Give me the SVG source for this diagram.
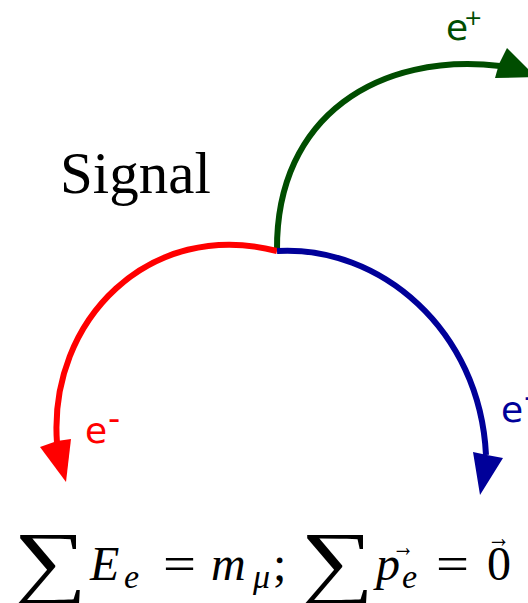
<svg xmlns="http://www.w3.org/2000/svg" width="528" height="603" viewBox="0 0 528 603">
<style>
.arc{fill:none;stroke-width:6;stroke-linecap:butt}
.lbl{font-family:"DejaVu Sans",sans-serif}
.m{font-family:"Liberation Serif",serif;font-size:48px;fill:#000}
.i{font-style:italic}
.s{font-size:34px}
.sum{font-size:75px}
</style>
<rect width="528" height="603" fill="#fff"/>
<g id="connectors">
<path class="arc" stroke="#004d00" d="M277 250 C276 115 380 52 500 66"/>
<polygon fill="#004d00" points="507,48 536,77 495,78 499,64"/>
<path class="arc" stroke="#ff0000" d="M277 251 C150 218 48 320 57 443"/>
<polygon fill="#ff0000" points="71,439 66,482 40,447 57,441"/>
<path class="arc" stroke="#000099" d="M277 251 C380 245 480 330 486 455"/>
<polygon fill="#000099" points="503,458 480,495 473,452 487,455"/>
</g>
<g id="signal"><text x="60" y="193" font-family="Liberation Serif,serif" font-size="59">Signal</text></g>
<g id="eplus" class="lbl" fill="#004d00"><text x="446" y="40" font-size="36">e</text><text x="464" y="25" font-size="22">+</text></g>
<g id="eminus-red" class="lbl" fill="#ff0000"><text x="85" y="443" font-size="36">e</text><text x="108" y="430" font-size="34">-</text></g>
<g id="eminus-blue" class="lbl" fill="#000099"><text x="501" y="422" font-size="36">e</text><text x="524" y="408" font-size="34">-</text></g>
<g id="formula" class="m">
<text class="sum" transform="translate(13,589) scale(1.38,1.1)">∑</text>
<text class="i" x="90" y="580">E</text>
<text class="i s" x="124" y="588">e</text>
<text x="163" y="580" textLength="33" lengthAdjust="spacingAndGlyphs">=</text>
<text class="i" x="211" y="580">m</text>
<text class="i s" x="253" y="588">μ</text>
<text x="273" y="580">;</text>
<text class="sum" transform="translate(300,589) scale(1.38,1.1)">∑</text>
<text class="i" x="376" y="580">p</text>
<text class="i s" x="402" y="588">e</text>
<text x="392" y="556" font-size="28" textLength="22" lengthAdjust="spacingAndGlyphs">→</text>
<text x="436" y="580" textLength="33" lengthAdjust="spacingAndGlyphs">=</text>
<text x="487" y="580">0</text>
<text x="487" y="547" font-size="28" textLength="23" lengthAdjust="spacingAndGlyphs">→</text>
</g>
</svg>
